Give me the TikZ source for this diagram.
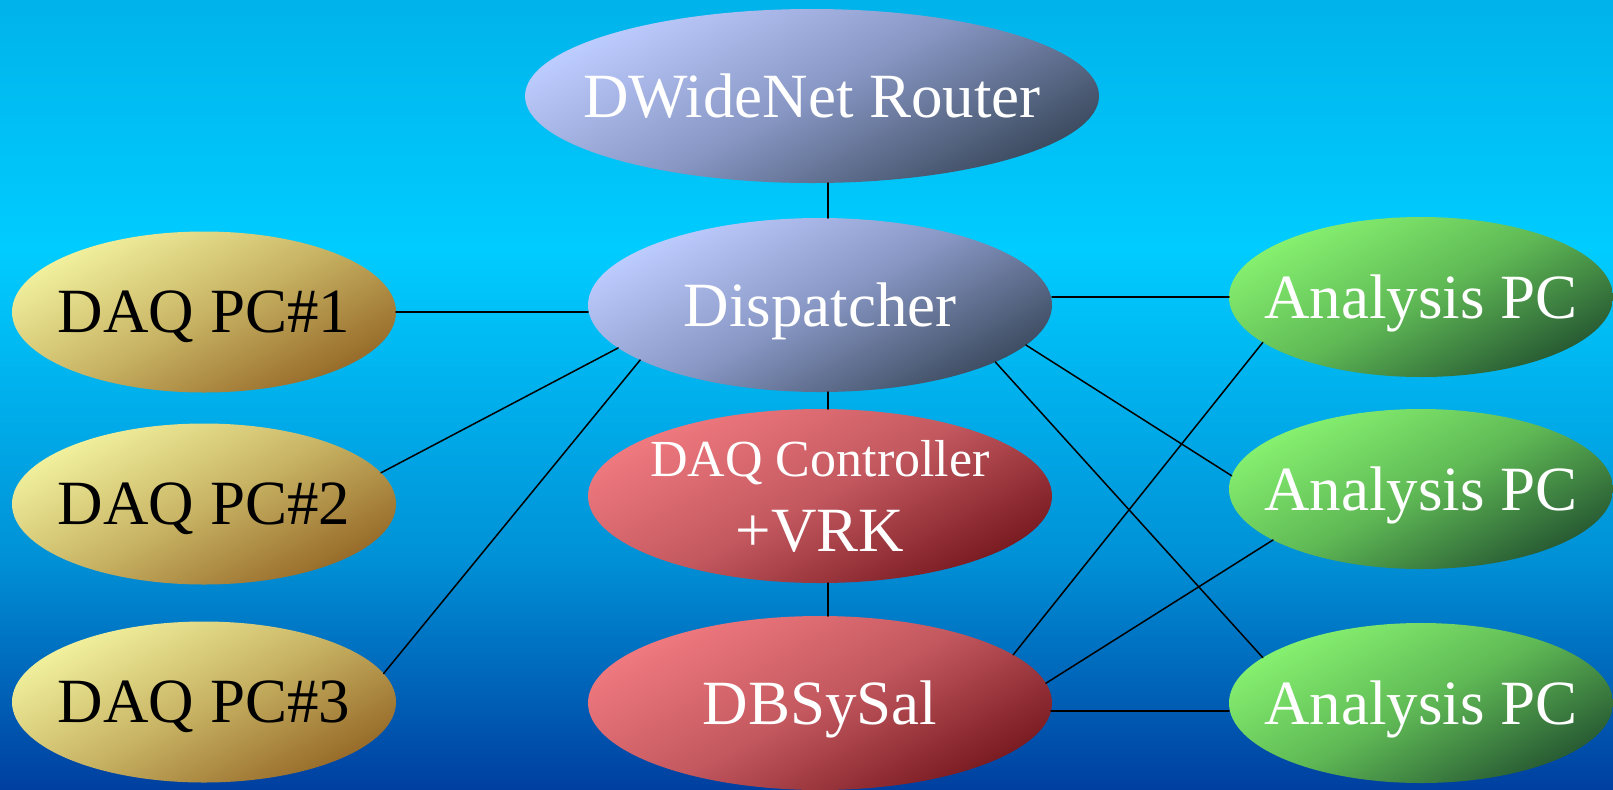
\documentclass[tikz,border=0pt]{standalone}
\usepackage{fontspec}
\setmainfont{Liberation Serif}
\usetikzlibrary{shapes.geometric}
\definecolor{skytop}{RGB}{0,179,234}
\definecolor{skymid}{RGB}{0,204,255}
\definecolor{skylow}{RGB}{0,144,214}
\definecolor{skybot}{RGB}{0,63,160}
\definecolor{netlight}{RGB}{190,205,255}
\definecolor{netmid}{RGB}{135,150,195}
\definecolor{netdark}{RGB}{60,75,95}
\definecolor{daqlight}{RGB}{242,242,158}
\definecolor{daqmid}{RGB}{200,180,100}
\definecolor{daqdark}{RGB}{150,105,40}
\definecolor{ctllight}{RGB}{240,122,128}
\definecolor{ctlmid}{RGB}{195,88,95}
\definecolor{ctldark}{RGB}{120,25,32}
\definecolor{anlight}{RGB}{135,242,112}
\definecolor{anmid}{RGB}{95,185,85}
\definecolor{andark}{RGB}{38,88,50}
\pgfdeclareverticalshading{sky}{100bp}{color(0bp)=(skybot); color(25bp)=(skybot); color(39.5bp)=(skylow); color(59.2bp)=(skymid); color(75bp)=(skytop); color(100bp)=(skytop)}
\tikzset{
  host/.style={ellipse,inner xsep=-20pt,inner ysep=-8pt,outer sep=0pt,text depth=0pt,
    font=\fontsize{31.5}{36}\selectfont,text=white},
  netbox/.style={host,top color=netlight,bottom color=netdark,middle color=netmid,shading angle=28,
    minimum width=232pt,minimum height=87pt},
  daqbox/.style={host,text=black,top color=daqlight,bottom color=daqdark,middle color=daqmid,shading angle=28,
    minimum width=192pt,minimum height=80.5pt},
  ctlbox/.style={host,top color=ctllight,bottom color=ctldark,middle color=ctlmid,shading angle=28,
    minimum width=232pt,minimum height=87pt},
  anbox/.style={host,top color=anlight,bottom color=andark,middle color=anmid,shading angle=28,
    minimum width=192pt,minimum height=80pt},
  link/.style={draw=black,line width=0.75pt}
}
\begin{document}
\begin{tikzpicture}[x=0.5pt,y=-0.5pt,line cap=round,line join=round]
\useasboundingbox (0,0) rectangle (1613,789);
\shade[shading=sky] (0,0) rectangle (1613,789);
\path
(812,96) coordinate (R)
(820,305) coordinate (D)
(820,496) coordinate (C)
(820,703) coordinate (S)
(204,312) coordinate (P1)
(204,504) coordinate (P2)
(204,702) coordinate (P3)
(1421,297) coordinate (A1)
(1421,489) coordinate (A2)
(1421,703) coordinate (A3)
;
\node[netbox,minimum width=287pt] (router) at (R) {DWideNet Router};
\node[netbox] (disp) at (D) {Dispatcher};
\node[ctlbox,align=center] (ctrl) at (C) {{\fontsize{26}{30}\selectfont DAQ Controller}\\[1.5pt]+VRK};
\node[ctlbox] (db) at (S) {DBSySal};
\node[daqbox] (daq1) at (P1) {DAQ PC\#1};
\node[daqbox] (daq2) at (P2) {DAQ PC\#2};
\node[daqbox] (daq3) at (P3) {DAQ PC\#3};
\node[anbox] (an1) at (A1) {Analysis PC};
\node[anbox] (an2) at (A2) {Analysis PC};
\node[anbox] (an3) at (A3) {Analysis PC};
\draw[link] ([xshift=4pt]disp.north) -- ([xshift=4pt]disp.north |- router.south);
\draw[link] ([xshift=4pt]disp.south) -- ([xshift=4pt]ctrl.north);
\draw[link] ([xshift=4pt]ctrl.south) -- ([xshift=4pt]db.north);
\draw[link] (daq1.east) -- (daq1.east -| disp.west);
\draw[link] (daq2.10) -- (disp.192);
\draw[link] (daq3.9) -- (disp.197);
\draw[link] (an1.west -| disp.east) -- (an1.west);
\draw[link] (disp.349) -- (an2.176);
\draw[link] (disp.342) -- (an3.164);
\draw[link] (db.14) -- (an1.196);
\draw[link] (db.5) -- (an2.199);
\draw[link] (db.-2) -- (db.-2 -| an3.west);
\end{tikzpicture}
\end{document}
